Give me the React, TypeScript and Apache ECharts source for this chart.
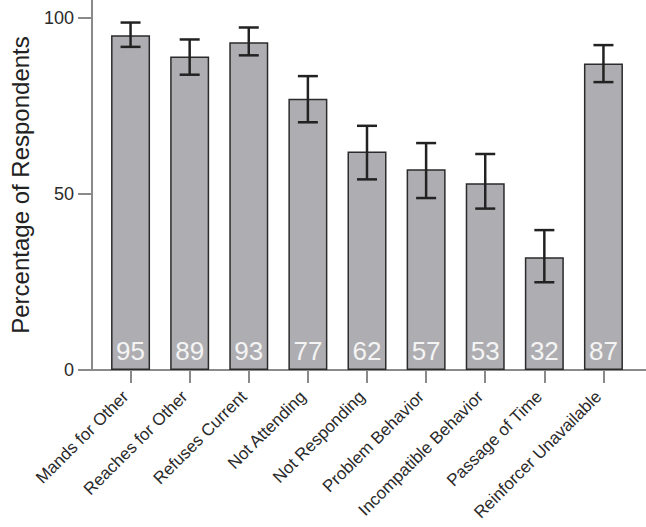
import React, { useEffect, useRef } from "react";
import * as echarts from "echarts";

const categories = [
  "Mands for Other",
  "Reaches for Other",
  "Refuses Current",
  "Not Attending",
  "Not Responding",
  "Problem Behavior",
  "Incompatible Behavior",
  "Passage of Time",
  "Reinforcer Unavailable",
];
const values = [95, 89, 93, 77, 62, 57, 53, 32, 87];
const errLow = [91.7, 83.8, 89.3, 70.3, 54.1, 48.8, 45.8, 24.9, 81.7];
const errHigh = [98.6, 93.8, 97.2, 83.4, 69.3, 64.4, 61.3, 39.7, 92.2];
const yTicks = [0, 50, 100];

const FONT = "'Liberation Sans', Arial, Helvetica, sans-serif";
const AXIS_COLOR = "#8a8a8a";

export default function App() {
  const ref = useRef<HTMLDivElement>(null);
  useEffect(() => {
    if (!ref.current) return;
    const chart = echarts.init(ref.current, null, { renderer: "svg" });
    const errData = categories.map((_, i) => [i, errLow[i], errHigh[i]]);
    chart.setOption({
      animation: false,
      textStyle: { fontFamily: FONT },
      grid: [
        { left: 97, right: 13, top: 0, bottom: 157 },
        { left: 88, right: 0, top: 0, bottom: 157 },
      ],
      xAxis: [
        {
          type: "category",
          gridIndex: 0,
          data: categories,
          axisLine: { show: false },
          axisTick: {
            show: true,
            alignWithLabel: true,
            length: 13,
            lineStyle: { color: AXIS_COLOR, width: 2 },
          },
          axisLabel: {
            rotate: 45,
            interval: 0,
            margin: 19,
            padding: [0, 7, 0, 0],
            fontSize: 17,
            color: "#2a2a2a",
            fontFamily: FONT,
          },
        },
        {
          type: "value",
          gridIndex: 1,
          min: 0,
          max: 1,
          axisLine: { show: true, lineStyle: { color: AXIS_COLOR, width: 2 } },
          axisTick: { show: false },
          axisLabel: { show: false },
          splitLine: { show: false },
        },
      ],
      yAxis: [
        {
          type: "value",
          gridIndex: 0,
          min: 0,
          max: 105,
          interval: 50,
          offset: 9,
          name: "Percentage of Respondents",
          nameLocation: "middle",
          nameGap: 60,
          nameTextStyle: { fontSize: 24, color: "#222", fontFamily: FONT },
          axisLine: { show: true, lineStyle: { color: AXIS_COLOR, width: 2 } },
          axisTick: {
            show: true,
            length: 14,
            customValues: yTicks,
            lineStyle: { color: AXIS_COLOR, width: 2 },
          },
          axisLabel: {
            customValues: yTicks,
            fontSize: 18,
            margin: 18,
            color: "#2a2a2a",
            fontFamily: FONT,
          },
          splitLine: { show: false },
        },
        {
          type: "value",
          gridIndex: 1,
          min: 0,
          max: 1,
          show: false,
        },
      ],
      series: [
        {
          type: "bar",
          xAxisIndex: 0,
          yAxisIndex: 0,
          data: values,
          barWidth: 39,
          itemStyle: { color: "#aeaeb2", borderColor: "#2b2b2b", borderWidth: 1.5 },
          label: {
            show: true,
            position: "insideBottom",
            distance: 6,
            fontSize: 26,
            color: "#f4f4f4",
            fontFamily: FONT,
          },
          z: 2,
        },
        {
          type: "custom",
          xAxisIndex: 0,
          yAxisIndex: 0,
          data: errData,
          z: 3,
          renderItem: (params: any, api: any) => {
            const x = api.value(0);
            const lo = api.coord([x, api.value(1)]);
            const hi = api.coord([x, api.value(2)]);
            const half = 10;
            const style = { stroke: "#222", lineWidth: 2.5 };
            return {
              type: "group",
              children: [
                { type: "line", shape: { x1: lo[0], y1: lo[1], x2: hi[0], y2: hi[1] }, style },
                { type: "line", shape: { x1: hi[0] - half, y1: hi[1], x2: hi[0] + half, y2: hi[1] }, style },
                { type: "line", shape: { x1: lo[0] - half, y1: lo[1], x2: lo[0] + half, y2: lo[1] }, style },
              ],
            };
          },
        },
      ],
    });
    return () => chart.dispose();
  }, []);
  return <div ref={ref} style={{ width: 646, height: 527, position: "absolute", left: 0, top: 0 }} />;
}
